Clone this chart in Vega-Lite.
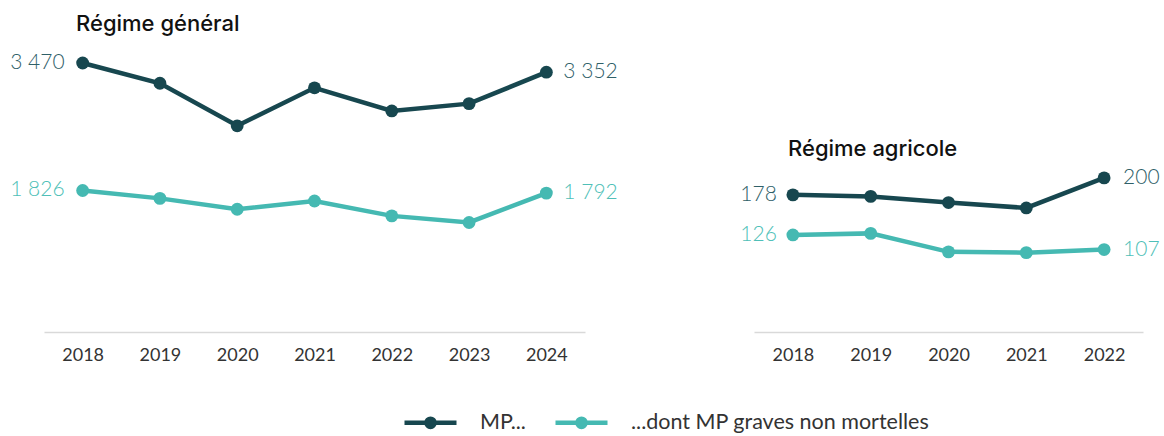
{
  "$schema": "https://vega.github.io/schema/vega-lite/v6.json",
  "padding": {"left": 10, "top": 13, "right": 2, "bottom": 0},
  "datasets": {
    "d": [
      {"regime": "general", "year": 2018, "serie": "MP...", "value": 3470},
      {"regime": "general", "year": 2019, "serie": "MP...", "value": 3209},
      {"regime": "general", "year": 2020, "serie": "MP...", "value": 2660},
      {"regime": "general", "year": 2021, "serie": "MP...", "value": 3150},
      {"regime": "general", "year": 2022, "serie": "MP...", "value": 2852},
      {"regime": "general", "year": 2023, "serie": "MP...", "value": 2946},
      {"regime": "general", "year": 2024, "serie": "MP...", "value": 3352},
      {"regime": "general", "year": 2018, "serie": "...dont MP graves non mortelles", "value": 1826},
      {"regime": "general", "year": 2019, "serie": "...dont MP graves non mortelles", "value": 1724},
      {"regime": "general", "year": 2020, "serie": "...dont MP graves non mortelles", "value": 1583},
      {"regime": "general", "year": 2021, "serie": "...dont MP graves non mortelles", "value": 1690},
      {"regime": "general", "year": 2022, "serie": "...dont MP graves non mortelles", "value": 1498},
      {"regime": "general", "year": 2023, "serie": "...dont MP graves non mortelles", "value": 1413},
      {"regime": "general", "year": 2024, "serie": "...dont MP graves non mortelles", "value": 1792},
      {"regime": "agricole", "year": 2018, "serie": "MP...", "value": 178},
      {"regime": "agricole", "year": 2019, "serie": "MP...", "value": 176},
      {"regime": "agricole", "year": 2020, "serie": "MP...", "value": 168},
      {"regime": "agricole", "year": 2021, "serie": "MP...", "value": 161},
      {"regime": "agricole", "year": 2022, "serie": "MP...", "value": 200},
      {"regime": "agricole", "year": 2018, "serie": "...dont MP graves non mortelles", "value": 126},
      {"regime": "agricole", "year": 2019, "serie": "...dont MP graves non mortelles", "value": 128},
      {"regime": "agricole", "year": 2020, "serie": "...dont MP graves non mortelles", "value": 104},
      {"regime": "agricole", "year": 2021, "serie": "...dont MP graves non mortelles", "value": 103},
      {"regime": "agricole", "year": 2022, "serie": "...dont MP graves non mortelles", "value": 107}
    ]
  },
  "data": {"name": "d"},
  "spacing": 169,
  "bounds": "flush",
  "hconcat": [
    {
      "width": 541,
      "height": 282,
      "title": {"text": "Régime général", "anchor": "start", "frame": "group", "dx": 32, "offset": 14},
      "transform": [{"filter": "datum.regime === 'general'"}],
      "encoding": {
        "x": {"field": "year", "type": "ordinal", "scale": {"paddingOuter": 0.5}},
        "y": {"field": "value", "type": "quantitative", "scale": {"domain": [0, 3638]}, "axis": null}
      },
      "layer": [
        {
          "mark": {"type": "line", "strokeWidth": 4.5, "point": {"size": 165, "filled": true, "opacity": 1}},
          "encoding": {
            "color": {"field": "serie", "type": "nominal",
              "scale": {"domain": ["MP...", "...dont MP graves non mortelles"], "range": ["#17474f", "#45b9b2"]},
              "legend": {
                "orient": "none", "legendX": 358, "legendY": 344, "direction": "horizontal",
                "title": null,
                "symbolType": "M-1,0L1,0M-0.16,0A0.16,0.16 0 1,0 0.16,0A0.16,0.16 0 1,0 -0.16,0",
                "symbolSize": 2704, "symbolStrokeWidth": 4.4, "symbolOpacity": 1,
                "labelFontSize": 21.5, "labelFont": "Lato", "labelColor": "#333333", "labelLimit": 0,
                "labelOffset": 21, "columnPadding": 20,
                "encode": {"symbols": {"update": {"fill": {"scale": "color", "field": "value"}, "fillOpacity": {"value": 1}}}}
              }
            }
          }
        },
        {
          "transform": [{"filter": "datum.year == 2018"}],
          "mark": {"type": "text", "align": "right", "baseline": "middle", "dx": -18, "fontSize": 21, "font": "Lato", "fontWeight": 300},
          "encoding": {
            "text": {"field": "value", "type": "quantitative", "format": ",d"},
            "fill": {"field": "serie", "type": "nominal", "scale": {"domain": ["MP...", "...dont MP graves non mortelles"], "range": ["#2f6068", "#4fbfb8"]}, "legend": null}
          }
        },
        {
          "transform": [{"filter": "datum.year == 2024"}],
          "mark": {"type": "text", "align": "left", "baseline": "middle", "dx": 17, "fontSize": 21, "font": "Lato", "fontWeight": 300},
          "encoding": {
            "text": {"field": "value", "type": "quantitative", "format": ",d"},
            "fill": {"field": "serie", "type": "nominal", "scale": {"domain": ["MP...", "...dont MP graves non mortelles"], "range": ["#2f6068", "#4fbfb8"]}, "legend": null}
          }
        }
      ]
    },
    {
      "width": 389,
      "height": 282,
      "title": {"text": "Régime agricole", "anchor": "start", "frame": "group", "dx": 34, "offset": 14, "dy": 125},
      "transform": [{"filter": "datum.regime === 'agricole'"}],
      "encoding": {
        "x": {"field": "year", "type": "ordinal", "scale": {"paddingOuter": 0.5}},
        "y": {"field": "value", "type": "quantitative", "scale": {"domain": [0, 366]}, "axis": null}
      },
      "layer": [
        {
          "mark": {"type": "line", "strokeWidth": 4.5, "point": {"size": 165, "filled": true, "opacity": 1}},
          "encoding": {
            "color": {"field": "serie", "type": "nominal",
              "scale": {"domain": ["MP...", "...dont MP graves non mortelles"], "range": ["#17474f", "#45b9b2"]}}
          }
        },
        {
          "transform": [{"filter": "datum.year == 2018"}],
          "mark": {"type": "text", "align": "right", "baseline": "middle", "dx": -16, "fontSize": 21, "font": "Lato", "fontWeight": 300},
          "encoding": {
            "text": {"field": "value", "type": "quantitative", "format": ",d"},
            "fill": {"field": "serie", "type": "nominal", "scale": {"domain": ["MP...", "...dont MP graves non mortelles"], "range": ["#2f6068", "#4fbfb8"]}, "legend": null}
          }
        },
        {
          "transform": [{"filter": "datum.year == 2022"}],
          "mark": {"type": "text", "align": "left", "baseline": "middle", "dx": 19, "fontSize": 21, "font": "Lato", "fontWeight": 300},
          "encoding": {
            "text": {"field": "value", "type": "quantitative", "format": ",d"},
            "fill": {"field": "serie", "type": "nominal", "scale": {"domain": ["MP...", "...dont MP graves non mortelles"], "range": ["#2f6068", "#4fbfb8"]}, "legend": null}
          }
        }
      ]
    }
  ],
  "resolve": {"scale": {"color": "shared", "fill": "shared"}},
  "config": {
    "locale": {"number": {"decimal": ",", "thousands": " ", "grouping": [3], "currency": ["", " €"]}},
    "view": {"stroke": null},
    "font": "Lato",
    "title": {"fontSize": 22, "font": "Inter", "fontWeight": 500, "color": "#111111"},
    "axisX": {
      "title": null, "labelAngle": 0, "ticks": false, "grid": false,
      "labelFontSize": 18, "labelFont": "Lato", "labelColor": "#333333", "labelPadding": 14,
      "domainColor": "#d9d9d9", "domainWidth": 1.5
    }
  }
}
